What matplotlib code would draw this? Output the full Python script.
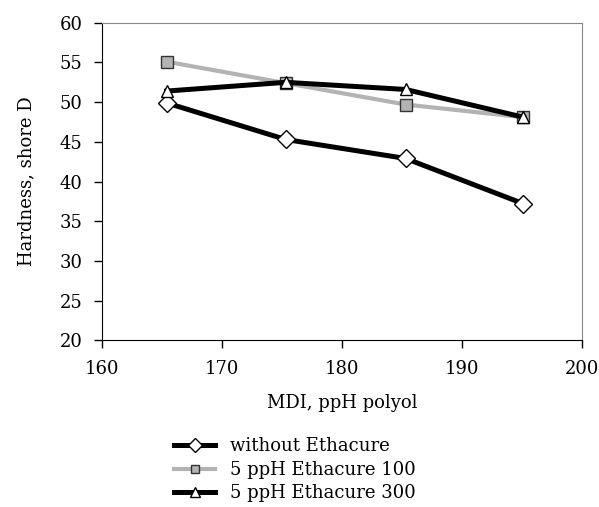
import matplotlib.pyplot as plt

plt.rcParams['font.family'] = ['DejaVu Serif']

# Data
mdi = [165.4, 175.3, 185.3, 195.1]
without_eth = [49.9, 45.3, 42.9, 37.2]
eth100 = [55.1, 52.4, 49.7, 48.1]
eth300 = [51.4, 52.5, 51.6, 48.1]

fig = plt.figure(figsize=(5.99, 5.07), dpi=100)
ax = fig.add_axes([0.170, 0.329, 0.802, 0.626])

l1, = ax.plot(mdi, without_eth, color="black", lw=3.6, marker="D", ms=9.5,
              mfc="white", mec="black", mew=1.0, label="without Ethacure")
l2, = ax.plot(mdi, eth100, color="#b3b3b3", lw=3.0, marker="s", ms=8.5,
              mfc="#b3b3b3", mec="#333333", mew=1.0, label="5 ppH Ethacure 100")
l3, = ax.plot(mdi, eth300, color="black", lw=3.6, marker="^", ms=9,
              mfc="white", mec="black", mew=1.0, label="5 ppH Ethacure 300")

ax.set_xlim(160, 200)
ax.set_ylim(20, 60)
ax.set_xticks(range(160, 201, 10))
ax.set_yticks(range(20, 61, 5))
ax.tick_params(direction="out", length=6, width=1, labelsize=13, pad=8)
for s in ["top", "right"]:
    ax.spines[s].set_color("#888888")
for s in ["left", "bottom"]:
    ax.spines[s].set_color("black")

ax.set_xlabel("MDI, ppH polyol", fontsize=13, labelpad=12)
ax.set_ylabel("Hardness, shore D", fontsize=13, labelpad=17)

fig.legend(handles=[l1, l2, l3], loc="upper left", bbox_to_anchor=(0.275, 0.155),
           frameon=False, fontsize=13, handlelength=2.3, labelspacing=0.3,
           borderpad=0, handletextpad=0.8, markerscale=0.75)

fig.savefig("out.png", dpi=100)
